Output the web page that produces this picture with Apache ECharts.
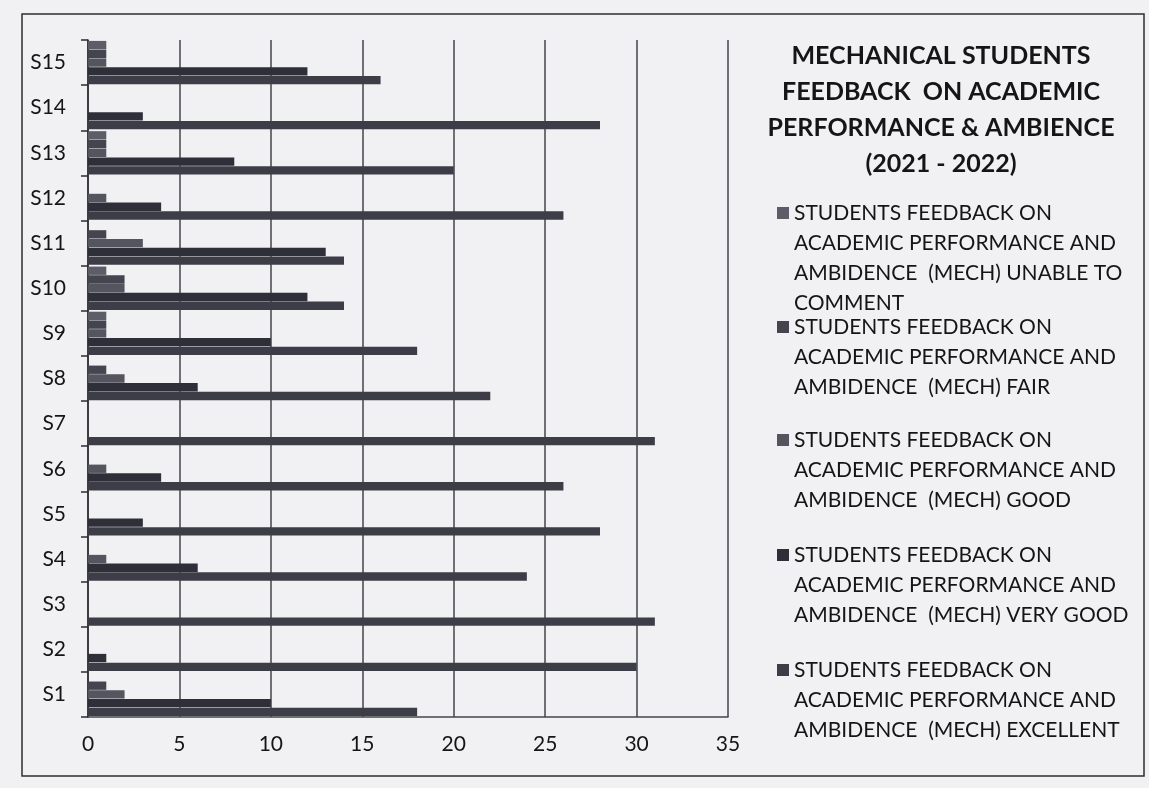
<!DOCTYPE html>
<html>
<head>
<meta charset="utf-8">
<script src="https://cdn.jsdelivr.net/npm/echarts@6/dist/echarts.min.js"></script>
<style>
  html, body { margin: 0; padding: 0; background: #f1f0f2; }
  #chart { width: 1149px; height: 788px; }
</style>
</head>
<body>
<div id="chart"></div>
<script>
// ---- data ----
const categories = ['S1','S2','S3','S4','S5','S6','S7','S8','S9','S10','S11','S12','S13','S14','S15'];
const unableToComment = [0, 0, 0, 0, 0, 0, 0, 0, 1, 1, 0, 0, 1, 0, 1];
const fair            = [1, 0, 0, 0, 0, 0, 0, 1, 1, 2, 1, 0, 1, 0, 1];
const good            = [2, 0, 0, 1, 0, 1, 0, 2, 1, 2, 3, 1, 1, 0, 1];
const veryGood        = [10, 1, 0, 6, 3, 4, 0, 6, 10, 12, 13, 4, 8, 3, 12];
const excellent       = [18, 30, 31, 24, 28, 26, 31, 22, 18, 14, 14, 26, 20, 28, 16];
const xTickValues = [0, 5, 10, 15, 20, 25, 30, 35];

const seriesNames = [
  'STUDENTS FEEDBACK ON ACADEMIC PERFORMANCE AND AMBIDENCE  (MECH) UNABLE TO COMMENT',
  'STUDENTS FEEDBACK ON ACADEMIC PERFORMANCE AND AMBIDENCE  (MECH) FAIR',
  'STUDENTS FEEDBACK ON ACADEMIC PERFORMANCE AND AMBIDENCE  (MECH) GOOD',
  'STUDENTS FEEDBACK ON ACADEMIC PERFORMANCE AND AMBIDENCE  (MECH) VERY GOOD',
  'STUDENTS FEEDBACK ON ACADEMIC PERFORMANCE AND AMBIDENCE  (MECH) EXCELLENT'
];
const legendLines = [
  ['STUDENTS FEEDBACK ON', 'ACADEMIC PERFORMANCE AND', 'AMBIDENCE  (MECH) UNABLE TO', 'COMMENT'],
  ['STUDENTS FEEDBACK ON', 'ACADEMIC PERFORMANCE AND', 'AMBIDENCE  (MECH) FAIR'],
  ['STUDENTS FEEDBACK ON', 'ACADEMIC PERFORMANCE AND', 'AMBIDENCE  (MECH) GOOD'],
  ['STUDENTS FEEDBACK ON', 'ACADEMIC PERFORMANCE AND', 'AMBIDENCE  (MECH) VERY GOOD'],
  ['STUDENTS FEEDBACK ON', 'ACADEMIC PERFORMANCE AND', 'AMBIDENCE  (MECH) EXCELLENT']
];
const titleText = 'MECHANICAL STUDENTS\nFEEDBACK  ON ACADEMIC\nPERFORMANCE & AMBIENCE\n(2021 - 2022)';

// ---- styling ----
const seriesData = [unableToComment, fair, good, veryGood, excellent];
const colors = ['#5d5d68', '#45454f', '#55555f', '#2f2f39', '#3d3d47'];
const FONT = 'Lato, "Open Sans", sans-serif';
const LH = 30;
const iconTops = [207, 321, 434, 549, 664];

const legends = seriesNames.map((name, i) => {
  const n = legendLines[i].length;
  // blank lines above so that the first text line sits level with the marker
  const text = '\n'.repeat(n - 1) + legendLines[i].join('\n');
  const boxH = (2 * n - 1) * LH;
  return {
    data: [name],
    orient: 'vertical',
    left: 777,
    top: iconTops[i] + 6 - boxH / 2,
    padding: 0,
    itemWidth: 12,
    itemHeight: 12,
    itemGap: 0,
    selectedMode: false,
    icon: 'rect',
    formatter: () => text,
    textStyle: {
      fontFamily: FONT,
      fontSize: 21,
      color: '#151515',
      lineHeight: LH
    }
  };
});

const chart = echarts.init(document.getElementById('chart'));
chart.setOption({
  backgroundColor: '#f1f0f2',
  animation: false,
  title: {
    text: titleText,
    left: 941,
    top: 38,
    textAlign: 'center',
    padding: 0,
    textStyle: {
      fontFamily: FONT,
      fontSize: 25,
      fontWeight: 'bold',
      lineHeight: 36,
      color: '#151515'
    }
  },
  legend: legends,
  graphic: [{
    type: 'rect',
    shape: { x: 22, y: 14, width: 1122, height: 762 },
    style: { fill: 'none', stroke: '#2e2e2e', lineWidth: 1.5 },
    silent: true
  }],
  grid: { left: 88, top: 40, width: 640, height: 677, containLabel: false },
  xAxis: {
    type: 'value',
    min: 0, max: 35, interval: 5,
    axisLine: { show: true, lineStyle: { color: '#44444c', width: 1.5 } },
    axisTick: { show: false },
    axisLabel: {
      margin: 17,
      fontFamily: FONT, fontSize: 21, color: '#151515',
      formatter: v => xTickValues.includes(v) ? String(v) : ''
    },
    splitLine: { show: true, lineStyle: { color: '#44444c', width: 1.5 } }
  },
  yAxis: {
    type: 'category',
    data: categories,
    axisLine: { show: true, lineStyle: { color: '#2a2a32', width: 1.5 } },
    axisTick: { show: true, length: 7, lineStyle: { color: '#2a2a32', width: 1.5 } },
    axisLabel: { margin: 22, fontFamily: FONT, fontSize: 21, color: '#151515' },
    splitLine: { show: false }
  },
  series: seriesNames.map((name, i) => ({
    name: name,
    type: 'bar',
    data: seriesData[i],
    barGap: '5%',
    barCategoryGap: '4%',
    itemStyle: { color: colors[i] }
  }))
});
</script>
</body>
</html>
